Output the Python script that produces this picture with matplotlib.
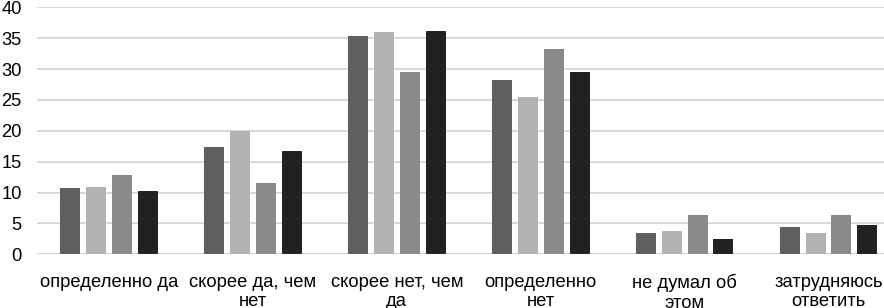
import numpy as np
import matplotlib
matplotlib.use('Agg')
import matplotlib.pyplot as plt

plt.rcParams['font.family'] = ['Liberation Sans', 'DejaVu Sans']

categories = ['определенно да', 'скорее да, чем\nнет', 'скорее нет, чем\nда',
              'определенно\nнет', 'не думал об\nэтом', 'затрудняюсь\nответить']
s1 = [10.7, 17.4, 35.3, 28.3, 3.4, 4.4]
s2 = [10.9, 19.9, 36.0, 25.5, 3.8, 3.5]
s3 = [12.9, 11.5, 29.5, 33.2, 6.3, 6.3]
s4 = [10.3, 16.8, 36.1, 29.5, 2.4, 4.7]
series = [s1, s2, s3, s4]
colors = ['#5f5f5f', '#b2b2b2', '#8a8a8a', '#222222']
yticks = [0, 5, 10, 15, 20, 25, 30, 35, 40]

fig = plt.figure(figsize=(8.84, 3.08), dpi=100)
ax = fig.add_axes([37/884, 0.1744, 0.9768, 0.8019])

x = np.arange(len(categories))
slot = 0.18
width = 0.139
for i, (vals, c) in enumerate(zip(series, colors)):
    ax.bar(x + (i - 1.5)*slot, vals, width=width, color=c, zorder=3)

ax.set_xlim(-0.5, len(categories) - 0.5)
ax.set_ylim(0, 40)
ax.set_yticks(yticks)
ax.yaxis.grid(True, color='#d6d6d6', lw=1.3, zorder=0)
ax.set_xticks(x)
ax.set_xticklabels(categories, fontsize=13.2, linespacing=1.2)
ax.tick_params(axis='both', length=0, labelsize=13.2, colors='#000000')
ax.tick_params(axis='x', pad=14)
ax.tick_params(axis='y', pad=11)
for s in ax.spines.values():
    s.set_visible(False)
ax.axhline(0, color='#d6d6d6', lw=1.3, zorder=1)

fig.savefig('out.png', dpi=100)
